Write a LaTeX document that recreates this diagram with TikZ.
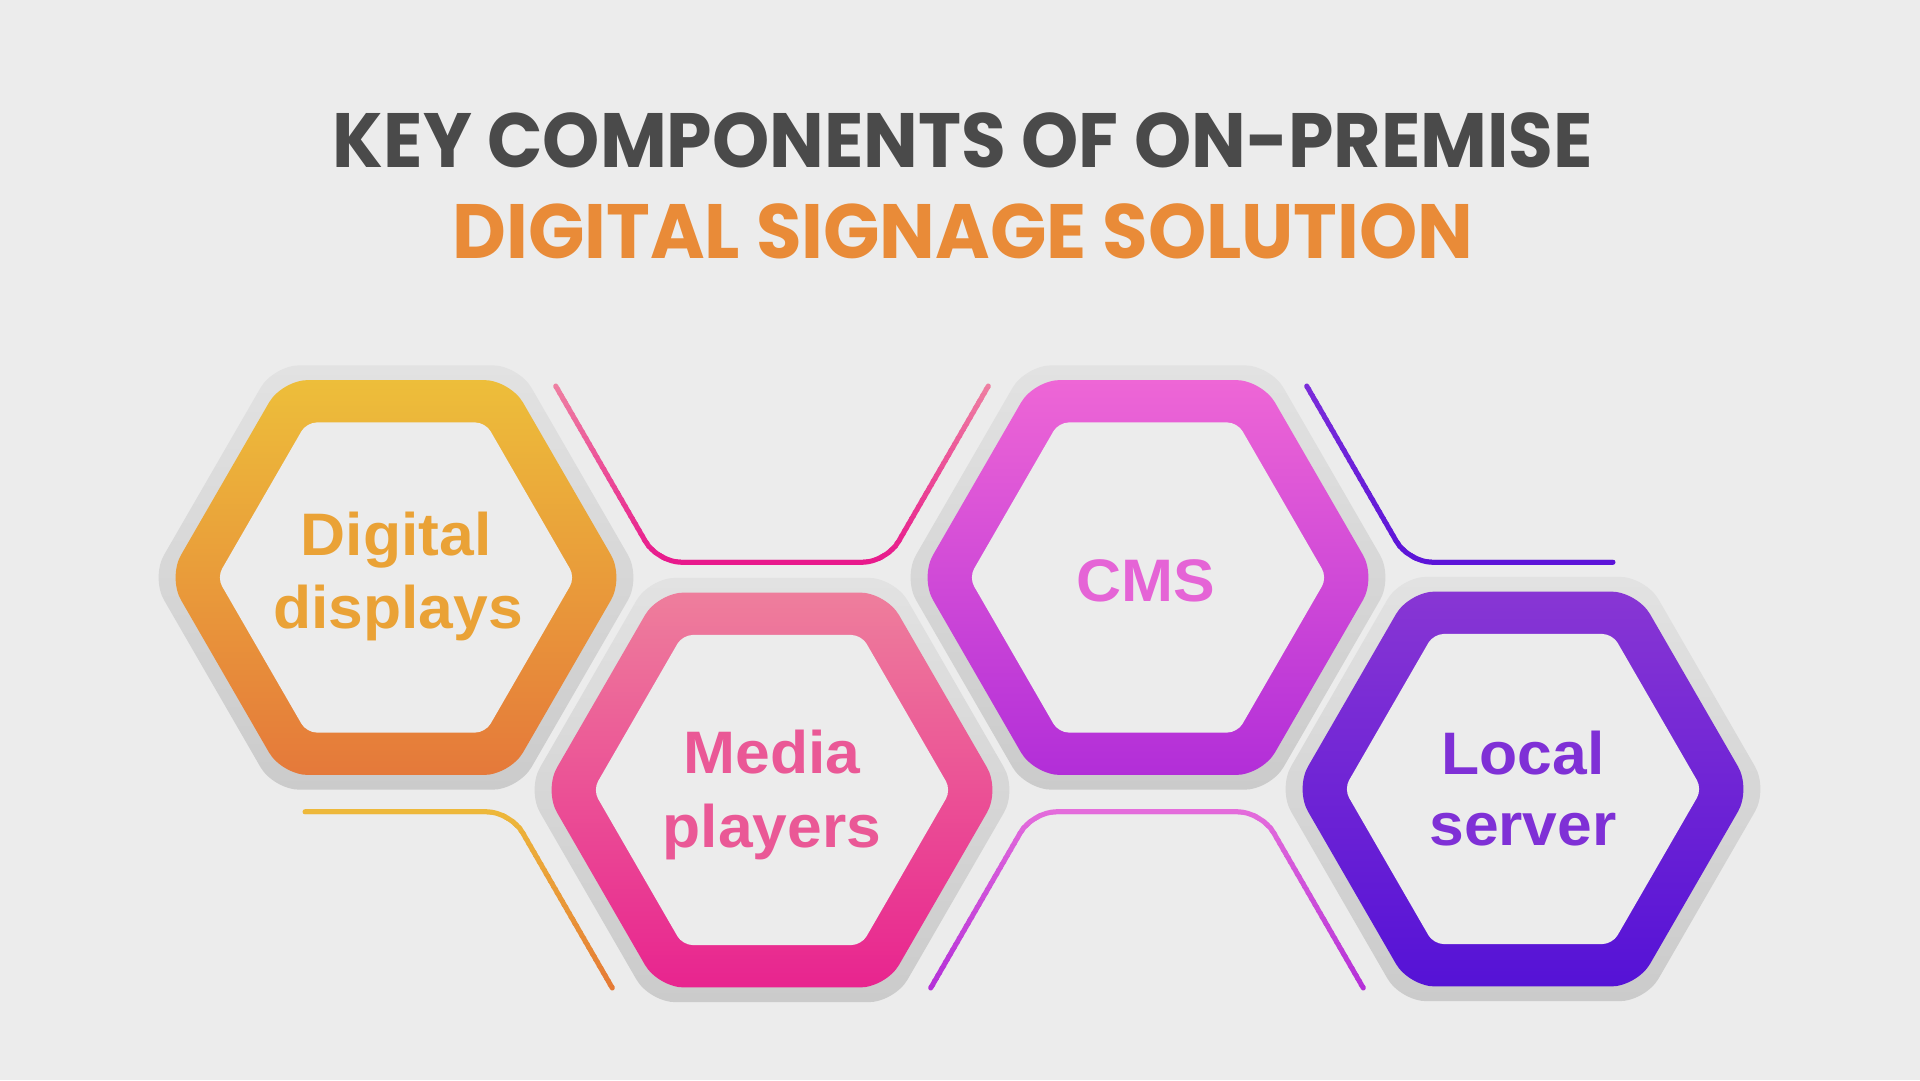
\documentclass[tikz,border=0pt]{standalone}
\usepackage{graphicx}
\usepackage{fontspec}
\newfontfamily\labfont{Liberation Sans}
\newfontfamily\titlefont{Poppins}
\definecolor{bg}{HTML}{ECECEC}
\definecolor{haloT}{HTML}{E2E2E2}
\definecolor{haloB}{HTML}{CBCBCB}
\definecolor{titlegray}{HTML}{4A4A4A}
\definecolor{titleorange}{HTML}{E98B38}
\definecolor{hAt}{HTML}{EDBE3A}\definecolor{hAb}{HTML}{E5793A}
\definecolor{hBt}{HTML}{EE7E9C}\definecolor{hBb}{HTML}{E8248F}
\definecolor{hCt}{HTML}{EE66D6}\definecolor{hCb}{HTML}{B22ED8}
\definecolor{hDt}{HTML}{8836D4}\definecolor{hDb}{HTML}{5512D6}
\definecolor{tA}{HTML}{EAA236}
\definecolor{tB}{HTML}{EA5896}
\definecolor{tC}{HTML}{E564D6}
\definecolor{tD}{HTML}{7F30D6}
\definecolor{lPt}{HTML}{EE80A2}\definecolor{lPb}{HTML}{E8198C}
\definecolor{lVt}{HTML}{7B2CD9}\definecolor{lVb}{HTML}{5C14D8}
\definecolor{lOt}{HTML}{EDB83A}\definecolor{lOb}{HTML}{E57A35}
\definecolor{lMt}{HTML}{E46CDB}\definecolor{lMb}{HTML}{B430D8}

\newcommand\hexat[3]{(#1,{#2-0.8660254*#3}) -- ({#1+0.5*#3},{#2-0.8660254*#3}) -- ({#1+#3},#2) -- ({#1+0.5*#3},{#2+0.8660254*#3}) -- ({#1-0.5*#3},{#2+0.8660254*#3}) -- ({#1-#3},#2) -- ({#1-0.5*#3},{#2-0.8660254*#3}) -- cycle}

\newcommand\hexring[4]{%
  \shade[top color=haloT, bottom color=haloB, rounded corners=26pt] \hexat{#1}{#2}{245};
  \shade[top color=#3, bottom color=#4, rounded corners=26pt] \hexat{#1}{#2}{228};
  \fill[bg, rounded corners=10pt] \hexat{#1}{#2}{179};
}

% #1 path, #2 y0, #3 y1, #4 top colour, #5 bottom colour
\newcommand\gradline[5]{%
  \foreach \k in {0,...,29}{%
    \pgfmathsetmacro\ya{#2+(#3-#2)*\k/30-0.6}%
    \pgfmathsetmacro\yb{#2+(#3-#2)*(\k+1)/30+0.6}%
    \pgfmathsetmacro\pc{100-(100/29)*\k}%
    \begin{scope}
      \clip (0,\ya) rectangle (1920,\yb);
      \draw[decoline, color=#4!\pc!#5] #1;
    \end{scope}
  }%
}
\newcommand\wide[1]{\scalebox{1.04}[1]{#1}}

\tikzset{
  decoline/.style={line width=5pt, line cap=round, line join=round, rounded corners=24pt},
  lab/.style={font=\labfont\bfseries\fontsize{60}{72}\selectfont, anchor=base, inner sep=0pt},
  ttl/.style={font=\titlefont\bfseries\fontsize{77}{90}\selectfont, anchor=base, inner sep=0pt}
}

\begin{document}
\begin{tikzpicture}[x=1pt,y=-1pt]
\fill[bg] (0,0) rectangle (1920,1080);
\useasboundingbox (0,0) rectangle (1920,1080);

% title
\node[ttl, text=titlegray] (title1) at (963,167) {\resizebox{1260pt}{\height}{KEY COMPONENTS OF ON-PREMISE}};
\node[ttl, text=titleorange] (title2) at (963,258) {\resizebox{1021pt}{\height}{DIGITAL SIGNAGE SOLUTION}};

% decorative lines
\gradline{(555.7,386) -- (657.5,562.3) -- (886.5,562.3) -- (988.3,386)}{382}{566}{lPt}{lPb}
\gradline{(1306.7,386) -- (1408.5,562.3) -- (1613,562.3)}{382}{566}{lVt}{lVb}
\gradline{(305,811.7) -- (510.5,811.7) -- (612.3,988)}{808}{992}{lOt}{lOb}
\gradline{(930.7,988) -- (1032.5,811.7) -- (1261.5,811.7) -- (1363.3,988)}{808}{992}{lMt}{lMb}

% hexagons
\hexring{396}{577.5}{hAt}{hAb}
\hexring{772}{790}{hBt}{hBb}
\hexring{1148}{577.5}{hCt}{hCb}
\hexring{1523}{789}{hDt}{hDb}

% labels
\node[lab, text=tA] (dd1) at (396,555) {\wide{Digital}};
\node[lab, text=tA] (dd2) at (398,628) {\wide{displays}};
\node[lab, text=tB] (mp1) at (772,773) {\wide{Media}};
\node[lab, text=tB] (mp2) at (772,847) {\wide{players}};
\node[lab, text=tC] (cms) at (1146,601) {\wide{CMS}};
\node[lab, text=tD] (ls1) at (1523,774) {\wide{Local}};
\node[lab, text=tD] (ls2) at (1523,845.5) {\wide{server}};
\end{tikzpicture}
\end{document}
